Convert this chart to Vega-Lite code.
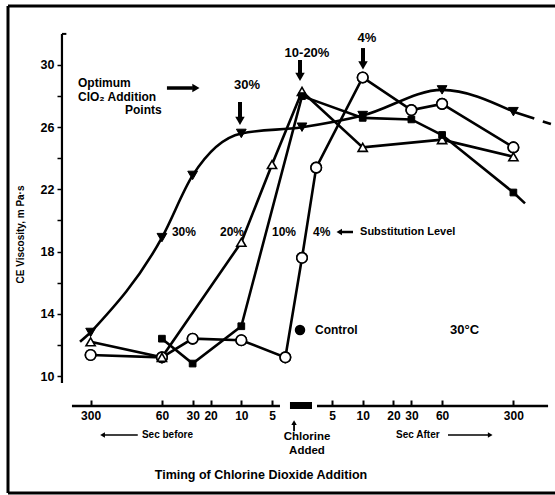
{
  "$schema": "https://vega.github.io/schema/vega-lite/v6.json",
  "width": 547,
  "height": 487,
  "padding": {"left": 8, "top": 6, "right": 0, "bottom": 2},
  "autosize": {"type": "none"},
  "background": "white",
  "config": {
    "view": {"stroke": null},
    "font": "Liberation Sans",
    "text": {"color": "black", "fontWeight": "bold", "fontSize": 12}
  },
  "data": {"values": [{"k": 1}]},
  "datasets": {
    "pts": [
      {"series": "30%", "t": -300, "v": 12.8},
      {"series": "30%", "t": -60, "v": 18.9},
      {"series": "30%", "t": -30, "v": 22.9},
      {"series": "30%", "t": -10, "v": 25.6},
      {"series": "30%", "t": 0, "v": 26.0},
      {"series": "30%", "t": 10, "v": 26.75},
      {"series": "30%", "t": 60, "v": 28.4},
      {"series": "30%", "t": 300, "v": 27.0},
      {"series": "20%", "t": -300, "v": 12.2},
      {"series": "20%", "t": -60, "v": 11.2},
      {"series": "20%", "t": -10, "v": 18.6},
      {"series": "20%", "t": -5, "v": 23.6},
      {"series": "20%", "t": 0, "v": 28.3},
      {"series": "20%", "t": 10, "v": 24.7},
      {"series": "20%", "t": 60, "v": 25.2},
      {"series": "20%", "t": 300, "v": 24.1},
      {"series": "10%", "t": -60, "v": 12.4},
      {"series": "10%", "t": -30, "v": 10.8},
      {"series": "10%", "t": -10, "v": 13.2},
      {"series": "10%", "t": 0, "v": 28.0},
      {"series": "10%", "t": 10, "v": 26.6},
      {"series": "10%", "t": 30, "v": 26.5},
      {"series": "10%", "t": 60, "v": 25.5},
      {"series": "10%", "t": 300, "v": 21.8},
      {"series": "4%", "t": -300, "v": 11.35},
      {"series": "4%", "t": -60, "v": 11.2},
      {"series": "4%", "t": -30, "v": 12.4},
      {"series": "4%", "t": -10, "v": 12.3},
      {"series": "4%", "t": -3.7, "v": 11.2},
      {"series": "4%", "t": 0, "v": 17.6},
      {"series": "4%", "t": 3.5, "v": 23.4},
      {"series": "4%", "t": 10, "v": 29.2},
      {"series": "4%", "t": 30, "v": 27.1},
      {"series": "4%", "t": 60, "v": 27.5},
      {"series": "4%", "t": 300, "v": 24.7}
    ],
    "ext": [
      {"series": "30%a", "t": -300, "v": 12.8},
      {"series": "30%a", "t": -381, "v": 12.2},
      {"series": "30%b", "t": 300, "v": 27.0},
      {"series": "30%b", "t": 700, "v": 26.2},
      {"series": "10%b", "t": 300, "v": 21.8},
      {"series": "10%b", "t": 390, "v": 21.1}
    ]
  },
  "layer": [
    {
      "data": {"name": "pts"},
      "transform": [
        {"calculate": "datum.t == 0 ? 0 : (datum.t > 0 ? 1 : -1) * (log(abs(datum.t)) / LN10 - 0.405)", "as": "u"},
        {"filter": "datum.series == '4%'"}
      ],
      "mark": {"type": "point", "shape": "circle", "filled": true, "fill": "white", "stroke": "black", "strokeWidth": 1.6, "size": 110, "opacity": 1},
      "encoding": {
        "x": {
          "field": "u", "type": "quantitative",
          "scale": {"domain": [-2.882, 2.48], "nice": false, "zero": false},
          "axis": {
            "values": [-2.07212, -1.37315, -1.07212, -0.89603, -0.595, -0.29397, 0.29397, 0.595, 0.89603, 1.07212, 1.37315, 2.07212],
            "labelExpr": "format(pow(10, abs(datum.value) + 0.405), '.0f')",
            "offset": -93, "domain": false, "grid": false,
            "tickSize": 6, "tickWidth": 2, "tickColor": "black",
            "labelFontSize": 12, "labelFontWeight": "bold", "labelColor": "black",
            "labelPadding": 4, "labelFlush": false, "labelOverlap": false, "title": ""
          }
        },
        "y": {
          "field": "v", "type": "quantitative",
          "scale": {"domain": [2.476, 33.794], "nice": false, "zero": false},
          "axis": {
            "values": [10, 12, 14, 16, 18, 20, 22, 24, 26, 28, 30],
            "labelExpr": "datum.value % 4 == 2 ? datum.label : ''",
            "offset": -54, "domain": false, "grid": false,
            "tickSize": 5, "tickWidth": 1.5, "tickColor": "black",
            "labelFontSize": 12.5, "labelFontWeight": "bold", "labelColor": "black",
            "labelPadding": 3, "labelOverlap": false,
            "title": "CE Viscosity, m Pa·s",
            "titleAngle": 270, "titleX": -42, "titleY": 228,
            "titleAlign": "center", "titleBaseline": "middle",
            "titleFontSize": 10, "titleFontWeight": "bold", "titleColor": "black"
          }
        }
      }
    },
    {
      "mark": {"type": "rule", "color": "black", "strokeWidth": 3},
      "encoding": {
        "x": {"datum": -2.882, "type": "quantitative"},
        "y": {"datum": 2.476, "type": "quantitative"},
        "y2": {"datum": 33.794}
      }
    },
    {
      "mark": {"type": "rule", "color": "black", "strokeWidth": 3},
      "encoding": {
        "x": {"datum": -2.882, "type": "quantitative"},
        "x2": {"datum": 2.48},
        "y": {"datum": 33.794, "type": "quantitative"}
      }
    },
    {
      "mark": {"type": "rule", "color": "black", "strokeWidth": 3},
      "encoding": {
        "x": {"datum": -2.882, "type": "quantitative"},
        "x2": {"datum": 2.48},
        "y": {"datum": 2.476, "type": "quantitative"}
      }
    },
    {
      "mark": {"type": "rule", "color": "black", "strokeWidth": 2.2},
      "encoding": {
        "x": {"datum": -2.353, "type": "quantitative"},
        "y": {"datum": 9.55, "type": "quantitative"},
        "y2": {"datum": 32.0}
      }
    },
    {
      "mark": {"type": "rule", "color": "black", "strokeWidth": 2},
      "encoding": {
        "x": {"datum": -2.353, "type": "quantitative"},
        "x2": {"datum": -2.31},
        "y": {"datum": 32.0, "type": "quantitative"}
      }
    },
    {
      "mark": {"type": "rule", "color": "black", "strokeWidth": 2.5},
      "encoding": {
        "x": {"datum": -2.255, "type": "quantitative"},
        "x2": {"datum": -0.216},
        "y": {"datum": 8.071, "type": "quantitative"}
      }
    },
    {
      "mark": {"type": "rule", "color": "black", "strokeWidth": 2.5},
      "encoding": {
        "x": {"datum": 0.147, "type": "quantitative"},
        "x2": {"datum": 2.412},
        "y": {"datum": 8.071, "type": "quantitative"}
      }
    },
    {
      "mark": {"type": "rect", "color": "black"},
      "encoding": {
        "x": {"datum": -0.118, "type": "quantitative"},
        "x2": {"datum": 0.098},
        "y": {"datum": 7.878, "type": "quantitative"},
        "y2": {"datum": 8.328}
      }
    },
    {
      "data": {"name": "pts"},
      "transform": [
        {"calculate": "datum.t == 0 ? 0 : (datum.t > 0 ? 1 : -1) * (log(abs(datum.t)) / LN10 - 0.405)", "as": "u"},
        {"filter": "datum.series == '30%'"}
      ],
      "mark": {"type": "line", "interpolate": "monotone", "color": "black", "strokeWidth": 2.6},
      "encoding": {
        "x": {"field": "u", "type": "quantitative"},
        "y": {"field": "v", "type": "quantitative"}
      }
    },
    {
      "data": {"name": "pts"},
      "transform": [
        {"calculate": "datum.t == 0 ? 0 : (datum.t > 0 ? 1 : -1) * (log(abs(datum.t)) / LN10 - 0.405)", "as": "u"},
        {"filter": "datum.series != '30%'"}
      ],
      "mark": {"type": "line", "color": "black", "strokeWidth": 2.6},
      "encoding": {
        "x": {"field": "u", "type": "quantitative"},
        "y": {"field": "v", "type": "quantitative"},
        "detail": {"field": "series", "type": "nominal"}
      }
    },
    {
      "data": {"name": "ext"},
      "transform": [
        {"calculate": "datum.t == 0 ? 0 : (datum.t > 0 ? 1 : -1) * (log(abs(datum.t)) / LN10 - 0.405)", "as": "u"}
      ],
      "mark": {"type": "line", "color": "black", "strokeWidth": 2.6, "strokeDash": [22, 9]},
      "encoding": {
        "x": {"field": "u", "type": "quantitative"},
        "y": {"field": "v", "type": "quantitative"},
        "detail": {"field": "series", "type": "nominal"}
      }
    },
    {
      "data": {"name": "pts"},
      "transform": [
        {"calculate": "datum.t == 0 ? 0 : (datum.t > 0 ? 1 : -1) * (log(abs(datum.t)) / LN10 - 0.405)", "as": "u"},
        {"filter": "datum.series == '4%'"}
      ],
      "mark": {"type": "point", "shape": "circle", "filled": true, "fill": "white", "stroke": "black", "strokeWidth": 1.6, "size": 110, "opacity": 1},
      "encoding": {
        "x": {"field": "u", "type": "quantitative"},
        "y": {"field": "v", "type": "quantitative"}
      }
    },
    {
      "data": {"name": "pts"},
      "transform": [
        {"calculate": "datum.t == 0 ? 0 : (datum.t > 0 ? 1 : -1) * (log(abs(datum.t)) / LN10 - 0.405)", "as": "u"},
        {"filter": "datum.series == '20%'"}
      ],
      "mark": {"type": "point", "shape": "triangle-up", "filled": true, "fill": "white", "stroke": "black", "strokeWidth": 1.6, "size": 85, "opacity": 1},
      "encoding": {
        "x": {"field": "u", "type": "quantitative"},
        "y": {"field": "v", "type": "quantitative"}
      }
    },
    {
      "data": {"name": "pts"},
      "transform": [
        {"calculate": "datum.t == 0 ? 0 : (datum.t > 0 ? 1 : -1) * (log(abs(datum.t)) / LN10 - 0.405)", "as": "u"},
        {"filter": "datum.series == '10%'"}
      ],
      "mark": {"type": "point", "shape": "square", "filled": true, "fill": "black", "stroke": "black", "strokeWidth": 1, "size": 45, "opacity": 1},
      "encoding": {
        "x": {"field": "u", "type": "quantitative"},
        "y": {"field": "v", "type": "quantitative"}
      }
    },
    {
      "data": {"name": "pts"},
      "transform": [
        {"calculate": "datum.t == 0 ? 0 : (datum.t > 0 ? 1 : -1) * (log(abs(datum.t)) / LN10 - 0.405)", "as": "u"},
        {"filter": "datum.series == '30%'"}
      ],
      "mark": {"type": "point", "shape": "triangle-down", "filled": true, "fill": "black", "stroke": "black", "strokeWidth": 1, "size": 95, "opacity": 1},
      "encoding": {
        "x": {"field": "u", "type": "quantitative"},
        "y": {"field": "v", "type": "quantitative"}
      }
    },
    {
      "mark": {"type": "text", "text": "Optimum", "align": "left", "baseline": "middle"},
      "encoding": {"x": {"datum": -2.196, "type": "quantitative"}, "y": {"datum": 28.84, "type": "quantitative"}}
    },
    {
      "mark": {"type": "text", "text": "ClO₂ Addition", "align": "left", "baseline": "middle"},
      "encoding": {"x": {"datum": -2.196, "type": "quantitative"}, "y": {"datum": 27.94, "type": "quantitative"}}
    },
    {
      "mark": {"type": "text", "text": "Points", "align": "left", "baseline": "middle"},
      "encoding": {"x": {"datum": -1.735, "type": "quantitative"}, "y": {"datum": 27.11, "type": "quantitative"}}
    },
    {
      "mark": {"type": "rule", "color": "black", "strokeWidth": 3.5},
      "encoding": {"x": {"datum": -1.324, "type": "quantitative"}, "x2": {"datum": -1.07}, "y": {"datum": 28.52, "type": "quantitative"}}
    },
    {
      "mark": {"type": "point", "shape": "triangle-right", "filled": true, "color": "black", "size": 70, "opacity": 1},
      "encoding": {"x": {"datum": -1.04, "type": "quantitative"}, "y": {"datum": 28.52, "type": "quantitative"}}
    },
    {
      "mark": {"type": "text", "text": "30%", "align": "center", "baseline": "middle", "fontSize": 13},
      "encoding": {"x": {"datum": -0.539, "type": "quantitative"}, "y": {"datum": 28.71, "type": "quantitative"}}
    },
    {
      "mark": {"type": "rule", "color": "black", "strokeWidth": 4},
      "encoding": {"x": {"datum": -0.608, "type": "quantitative"}, "y": {"datum": 27.62, "type": "quantitative"}, "y2": {"datum": 26.6}}
    },
    {
      "mark": {"type": "point", "shape": "triangle-down", "filled": true, "color": "black", "size": 90, "opacity": 1},
      "encoding": {"x": {"datum": -0.608, "type": "quantitative"}, "y": {"datum": 26.4, "type": "quantitative"}}
    },
    {
      "mark": {"type": "text", "text": "10-20%", "align": "center", "baseline": "middle", "fontSize": 13},
      "encoding": {"x": {"datum": 0.049, "type": "quantitative"}, "y": {"datum": 30.77, "type": "quantitative"}}
    },
    {
      "mark": {"type": "rule", "color": "black", "strokeWidth": 4},
      "encoding": {"x": {"datum": -0.0196, "type": "quantitative"}, "y": {"datum": 30.32, "type": "quantitative"}, "y2": {"datum": 29.42}}
    },
    {
      "mark": {"type": "point", "shape": "triangle-down", "filled": true, "color": "black", "size": 90, "opacity": 1},
      "encoding": {"x": {"datum": -0.0196, "type": "quantitative"}, "y": {"datum": 29.23, "type": "quantitative"}}
    },
    {
      "mark": {"type": "text", "text": "4%", "align": "center", "baseline": "middle", "fontSize": 13},
      "encoding": {"x": {"datum": 0.637, "type": "quantitative"}, "y": {"datum": 31.74, "type": "quantitative"}}
    },
    {
      "mark": {"type": "rule", "color": "black", "strokeWidth": 4},
      "encoding": {"x": {"datum": 0.598, "type": "quantitative"}, "y": {"datum": 31.09, "type": "quantitative"}, "y2": {"datum": 30.19}}
    },
    {
      "mark": {"type": "point", "shape": "triangle-down", "filled": true, "color": "black", "size": 90, "opacity": 1},
      "encoding": {"x": {"datum": 0.598, "type": "quantitative"}, "y": {"datum": 29.98, "type": "quantitative"}}
    },
    {
      "mark": {"type": "text", "text": "30%", "align": "left", "baseline": "middle"},
      "encoding": {"x": {"datum": -1.275, "type": "quantitative"}, "y": {"datum": 19.26, "type": "quantitative"}}
    },
    {
      "mark": {"type": "text", "text": "20%", "align": "left", "baseline": "middle"},
      "encoding": {"x": {"datum": -0.804, "type": "quantitative"}, "y": {"datum": 19.26, "type": "quantitative"}}
    },
    {
      "mark": {"type": "text", "text": "10%", "align": "left", "baseline": "middle"},
      "encoding": {"x": {"datum": -0.294, "type": "quantitative"}, "y": {"datum": 19.26, "type": "quantitative"}}
    },
    {
      "mark": {"type": "text", "text": "4%", "align": "left", "baseline": "middle"},
      "encoding": {"x": {"datum": 0.108, "type": "quantitative"}, "y": {"datum": 19.26, "type": "quantitative"}}
    },
    {
      "mark": {"type": "rule", "color": "black", "strokeWidth": 2.5},
      "encoding": {"x": {"datum": 0.38, "type": "quantitative"}, "x2": {"datum": 0.5}, "y": {"datum": 19.26, "type": "quantitative"}}
    },
    {
      "mark": {"type": "point", "shape": "triangle-left", "filled": true, "color": "black", "size": 40, "opacity": 1},
      "encoding": {"x": {"datum": 0.365, "type": "quantitative"}, "y": {"datum": 19.26, "type": "quantitative"}}
    },
    {
      "mark": {"type": "text", "text": "Substitution Level", "align": "left", "baseline": "middle", "fontSize": 11},
      "encoding": {"x": {"datum": 0.569, "type": "quantitative"}, "y": {"datum": 19.26, "type": "quantitative"}}
    },
    {
      "mark": {"type": "point", "shape": "circle", "filled": true, "color": "black", "size": 110, "opacity": 1},
      "encoding": {"x": {"datum": -0.0196, "type": "quantitative"}, "y": {"datum": 12.96, "type": "quantitative"}}
    },
    {
      "mark": {"type": "text", "text": "Control", "align": "left", "baseline": "middle"},
      "encoding": {"x": {"datum": 0.127, "type": "quantitative"}, "y": {"datum": 12.96, "type": "quantitative"}}
    },
    {
      "mark": {"type": "text", "text": "30°C", "align": "left", "baseline": "middle", "fontSize": 13},
      "encoding": {"x": {"datum": 1.451, "type": "quantitative"}, "y": {"datum": 12.96, "type": "quantitative"}}
    },
    {
      "mark": {"type": "rule", "color": "black", "strokeWidth": 1.5},
      "encoding": {"x": {"datum": -1.95, "type": "quantitative"}, "x2": {"datum": -1.61}, "y": {"datum": 6.21, "type": "quantitative"}}
    },
    {
      "mark": {"type": "point", "shape": "triangle-left", "filled": true, "color": "black", "size": 30, "opacity": 1},
      "encoding": {"x": {"datum": -1.955, "type": "quantitative"}, "y": {"datum": 6.21, "type": "quantitative"}}
    },
    {
      "mark": {"type": "text", "text": "Sec before", "align": "left", "baseline": "middle", "fontSize": 10},
      "encoding": {"x": {"datum": -1.569, "type": "quantitative"}, "y": {"datum": 6.21, "type": "quantitative"}}
    },
    {
      "mark": {"type": "text", "text": "Sec After", "align": "left", "baseline": "middle", "fontSize": 10},
      "encoding": {"x": {"datum": 0.922, "type": "quantitative"}, "y": {"datum": 6.21, "type": "quantitative"}}
    },
    {
      "mark": {"type": "rule", "color": "black", "strokeWidth": 1.5},
      "encoding": {"x": {"datum": 1.431, "type": "quantitative"}, "x2": {"datum": 1.84}, "y": {"datum": 6.21, "type": "quantitative"}}
    },
    {
      "mark": {"type": "point", "shape": "triangle-right", "filled": true, "color": "black", "size": 30, "opacity": 1},
      "encoding": {"x": {"datum": 1.845, "type": "quantitative"}, "y": {"datum": 6.21, "type": "quantitative"}}
    },
    {
      "mark": {"type": "rule", "color": "black", "strokeWidth": 1.8},
      "encoding": {"x": {"datum": -0.078, "type": "quantitative"}, "y": {"datum": 6.45, "type": "quantitative"}, "y2": {"datum": 6.95}}
    },
    {
      "mark": {"type": "point", "shape": "triangle-up", "filled": true, "color": "black", "size": 30, "opacity": 1},
      "encoding": {"x": {"datum": -0.078, "type": "quantitative"}, "y": {"datum": 7.0, "type": "quantitative"}}
    },
    {
      "mark": {"type": "text", "text": "Chlorine", "align": "center", "baseline": "middle", "fontSize": 11.5},
      "encoding": {"x": {"datum": 0.049, "type": "quantitative"}, "y": {"datum": 6.08, "type": "quantitative"}}
    },
    {
      "mark": {"type": "text", "text": "Added", "align": "center", "baseline": "middle", "fontSize": 11.5},
      "encoding": {"x": {"datum": 0.049, "type": "quantitative"}, "y": {"datum": 5.2, "type": "quantitative"}}
    },
    {
      "mark": {"type": "text", "text": "Timing of Chlorine Dioxide Addition", "align": "center", "baseline": "middle", "fontSize": 12.5},
      "encoding": {"x": {"datum": -0.402, "type": "quantitative"}, "y": {"datum": 3.63, "type": "quantitative"}}
    }
  ]
}
